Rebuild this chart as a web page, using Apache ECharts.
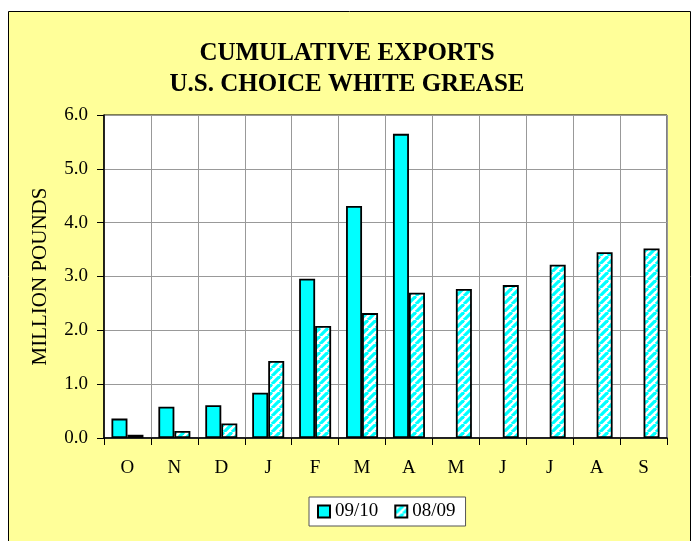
<!DOCTYPE html>
<html>
<head>
<meta charset="utf-8">
<script src="https://cdn.jsdelivr.net/npm/echarts@6/dist/echarts.min.js"></script>
<style>
  html, body { margin: 0; padding: 0; background: #fff; }
  #chart { width: 694px; height: 541px; }
</style>
</head>
<body>
<div id="chart"></div>
<script>
// months Oct..Sep
const months = ['O', 'N', 'D', 'J', 'F', 'M', 'A', 'M', 'J', 'J', 'A', 'S']
const exports0910 = [0.36, 0.58, 0.61, 0.84, 2.96, 4.31, 5.65, null, null, null, null, null]
const exports0809 = [0.06, 0.13, 0.27, 1.43, 2.08, 2.32, 2.70, 2.77, 2.84, 3.22, 3.45, 3.52]
const yTicks = [0, 1, 2, 3, 4, 5, 6]

const serif = '"Liberation Serif", "Times New Roman", serif'

// hatched fill for last year's bars
function makeHatch() {
  const s = 8
  const c = document.createElement('canvas')
  c.width = s
  c.height = s
  const ctx = c.getContext('2d')
  ctx.fillStyle = '#ffffff'
  ctx.fillRect(0, 0, s, s)
  ctx.strokeStyle = '#00ffff'
  ctx.lineWidth = 3.2
  for (let x0 = -s; x0 <= s; x0 += s) {
    ctx.beginPath()
    ctx.moveTo(x0, s)
    ctx.lineTo(x0 + s, 0)
    ctx.stroke()
  }
  return c
}

const chart = echarts.init(document.getElementById('chart'))

const option = {
  backgroundColor: '#ffffff',
  animation: false,
  graphic: [
    {
      type: 'rect',
      z: -10,
      shape: { x: 8.5, y: 11.5, width: 682, height: 540 },
      style: { fill: '#ffff99', stroke: '#000', lineWidth: 1 },
    },
    {
      type: 'rect',
      z: -5,
      shape: { x: 104, y: 115, width: 563, height: 323 },
      style: { fill: '#ffffff', stroke: '#000', lineWidth: 1 },
    },
  ],
  title: {
    text: 'CUMULATIVE EXPORTS\nU.S. CHOICE WHITE GREASE',
    left: 'center',
    top: 33,
    padding: [5, 0, 5, 6],
    textStyle: {
      fontFamily: serif,
      fontSize: 25,
      fontWeight: 'bold',
      color: '#000',
      lineHeight: 31,
    },
  },
  legend: {
    top: 497,
    left: 309,
    padding: [5, 10, 5, 8],
    backgroundColor: '#fff',
    borderColor: '#555',
    borderWidth: 1,
    borderRadius: 0,
    itemWidth: 12,
    itemHeight: 12,
    itemGap: 16,
    icon: 'rect',
    textStyle: { fontFamily: serif, fontSize: 19, color: '#000' },
    data: ['09/10', '08/09'],
  },
  grid: { left: 104, right: 27, top: 115, bottom: 103 },
  xAxis: {
    type: 'category',
    data: months,
    axisLine: { lineStyle: { color: '#000', width: 1.5 } },
    axisTick: { show: true, length: 7, lineStyle: { color: '#000' } },
    axisLabel: { fontFamily: serif, fontSize: 19, color: '#000', margin: 21 },
    splitLine: { show: true, interval: 0, lineStyle: { color: '#999', width: 1 } },
  },
  yAxis: {
    type: 'value',
    min: yTicks[0],
    max: yTicks[yTicks.length - 1],
    interval: 1,
    name: 'MILLION POUNDS',
    nameLocation: 'middle',
    nameGap: 53,
    nameTextStyle: { fontFamily: serif, fontSize: 21, color: '#000' },
    axisLine: { show: true, lineStyle: { color: '#000', width: 1.5 } },
    axisTick: { show: true, length: 7, lineStyle: { color: '#000' } },
    axisLabel: {
      fontFamily: serif,
      fontSize: 19,
      color: '#000',
      margin: 16,
      formatter: v => v.toFixed(1),
    },
    splitLine: { show: true, lineStyle: { color: '#999', width: 1 } },
  },
  series: [
    {
      name: '09/10',
      type: 'bar',
      barWidth: 16,
      barGap: '0%',
      data: exports0910,
      itemStyle: { color: '#00ffff', borderColor: '#000', borderWidth: 1.8 },
    },
    {
      name: '08/09',
      type: 'bar',
      barWidth: 16,
      data: exports0809,
      itemStyle: {
        color: { image: makeHatch(), repeat: 'repeat' },
        borderColor: '#000',
        borderWidth: 1.8,
      },
    },
  ],
}

chart.setOption(option)
</script>
</body>
</html>
